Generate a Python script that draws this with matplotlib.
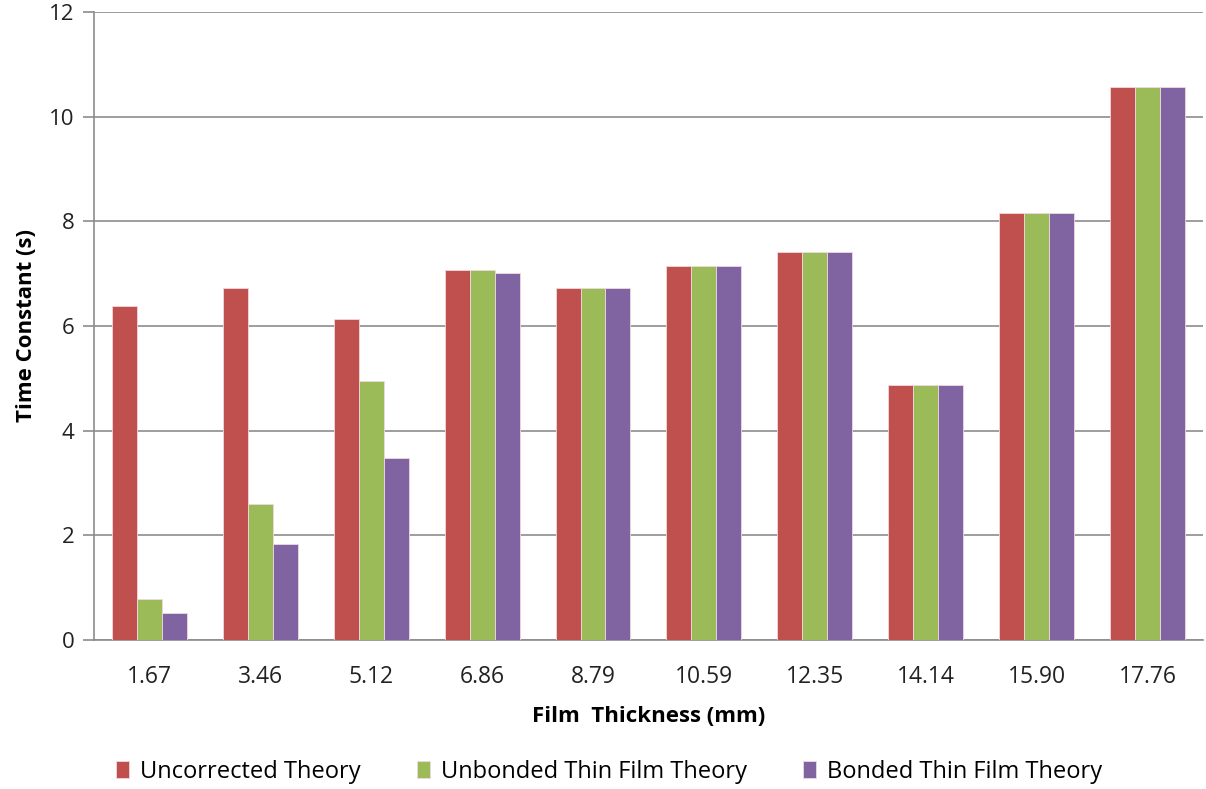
import matplotlib
matplotlib.use("Agg")
import matplotlib.pyplot as plt
import numpy as np

categories = ["1.67", "3.46", "5.12", "6.86", "8.79", "10.59", "12.35", "14.14", "15.90", "17.76"]
uncorrected = [6.38, 6.73, 6.13, 7.07, 6.73, 7.15, 7.41, 4.87, 8.16, 10.57]
unbonded = [0.78, 2.60, 4.95, 7.07, 6.73, 7.15, 7.41, 4.87, 8.16, 10.57]
bonded = [0.52, 1.83, 3.48, 7.01, 6.73, 7.15, 7.41, 4.87, 8.16, 10.57]
series_names = ["Uncorrected Theory", "Unbonded Thin Film Theory", "Bonded Thin Film Theory"]
colors = ["#C0504D", "#9BBB59", "#8064A2"]

plt.rcParams['font.family'] = ['Open Sans', 'DejaVu Sans']

fig = plt.figure(figsize=(12.06, 7.89), dpi=100)
ax = fig.add_axes([0.0779, 0.1889, 0.9196, 0.7959])

x = np.arange(len(categories))
w = 0.225
for i, (vals, name, c) in enumerate(zip([uncorrected, unbonded, bonded], series_names, colors)):
    ax.bar(x + (i - 1) * w, vals, width=w, color=c, label=name,
           edgecolor="#f0d8e0", linewidth=0.6, zorder=3)

ax.set_xlim(-0.5, len(categories) - 0.5)
ax.set_ylim(0, 12)
ax.set_yticks(range(0, 13, 2))
ax.set_xticks(x)
ax.set_xticklabels(categories)
ax.yaxis.grid(True, color="#8c8c8c", linewidth=1.2, zorder=0)
for s in ["top", "right"]:
    ax.spines[s].set_visible(False)
ax.spines["left"].set_color("#8c8c8c")
ax.spines["bottom"].set_color("#8c8c8c")
ax.spines["left"].set_linewidth(1.2)
ax.spines["bottom"].set_linewidth(1.2)
ax.tick_params(axis="y", length=8, color="#8c8c8c", width=1.2, labelsize=16, pad=6,
               labelcolor="#222222")
ax.tick_params(axis="x", length=0, labelsize=16.5, pad=18, labelcolor="#222222")

ax.set_ylabel("Time Constant (s)", fontsize=16, fontweight="bold", labelpad=9)
ax.set_xlabel("Film  Thickness (mm)", fontsize=16, fontweight="bold", labelpad=12)

leg = fig.legend(loc="center", bbox_to_anchor=(0.505, 0.022), ncol=3, frameon=False,
                 fontsize=17, handlelength=0.55, handleheight=0.75, handletextpad=0.45,
                 columnspacing=2.4)

fig.savefig("out.png", dpi=100)
